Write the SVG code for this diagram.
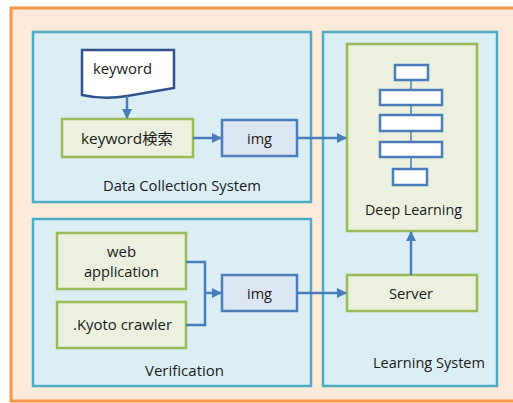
<svg xmlns="http://www.w3.org/2000/svg" width="513" height="403" viewBox="0 0 513 403">
<defs>
<marker id="ah" viewBox="0 0 10 10" refX="9" refY="5" markerWidth="4" markerHeight="4" orient="auto" markerUnits="strokeWidth">
<path d="M0,0 L10,5 L0,10 Z" fill="#4A7EBB"/>
</marker>
<style>
text{font-family:"Open Sans","Noto Sans","Noto Sans CJK JP",sans-serif;font-size:15px;fill:#1a1a1a;text-anchor:middle}
.sys{fill:#DBEEF4;stroke:#4BACC6;stroke-width:2.5}
.grn{fill:#EBF1DE;stroke:#9BBB59;stroke-width:2.5}
.img{fill:#DCE6F2;stroke:#4A7EBB;stroke-width:2.5}
.blk{fill:#FFFFFF;stroke:#4A7EBB;stroke-width:2.5}
.con{fill:none;stroke:#4A7EBB;stroke-width:2.5}
</style>
</defs>
<rect x="0" y="0" width="513" height="403" fill="#FFFFFF"/>
<rect id="outer" x="11" y="8" width="520" height="393" fill="#FDEADA" stroke="#F79646" stroke-width="3"/>

<g id="data-collection-system">
<rect class="sys" x="33" y="32" width="278" height="170"/>
<text x="182" y="191" textLength="158" lengthAdjust="spacingAndGlyphs">Data Collection System</text>
</g>
<g id="verification">
<rect class="sys" x="33" y="219" width="278" height="167"/>
<text x="184.5" y="376" textLength="79" lengthAdjust="spacingAndGlyphs">Verification</text>
</g>
<g id="learning-system">
<rect class="sys" x="323" y="32" width="174" height="354"/>
<text x="429" y="368" textLength="112" lengthAdjust="spacingAndGlyphs">Learning System</text>
</g>

<g id="keyword">
<path d="M82,50 H174 V88 Q150,92 127,96 Q104,100 82,95 Z" fill="#FFFFFF" stroke="#2F528F" stroke-width="2.5"/>
<text x="122.5" y="74" textLength="59" lengthAdjust="spacingAndGlyphs">keyword</text>
</g>
<g id="keyword-search">
<rect class="grn" x="62" y="119" width="131" height="38"/>
<text x="127" y="144" textLength="92" lengthAdjust="spacingAndGlyphs">keyword検索</text>
</g>
<g id="img1">
<rect class="img" x="222" y="120" width="75" height="36"/>
<text x="259.5" y="144" textLength="25" lengthAdjust="spacingAndGlyphs">img</text>
</g>

<g id="web-application">
<rect class="grn" x="57" y="233" width="129" height="56"/>
<text x="121.5" y="257" textLength="29" lengthAdjust="spacingAndGlyphs">web</text>
<text x="121.5" y="277" textLength="75" lengthAdjust="spacingAndGlyphs">application</text>
</g>
<g id="kyoto-crawler">
<rect class="grn" x="57" y="302" width="129" height="46"/>
<text x="122.5" y="330" textLength="99" lengthAdjust="spacingAndGlyphs">.Kyoto crawler</text>
</g>
<g id="img2">
<rect class="img" x="222" y="275" width="75" height="36"/>
<text x="259.5" y="299" textLength="25" lengthAdjust="spacingAndGlyphs">img</text>
</g>

<g id="deep-learning">
<rect class="grn" x="347" y="44" width="130" height="187"/>
<line x1="411" y1="80" x2="411" y2="169" stroke="#4A7EBB" stroke-width="1.5"/>
<rect class="blk" x="395" y="65" width="33" height="15"/>
<rect class="blk" x="380" y="90" width="62" height="15"/>
<rect class="blk" x="380" y="115" width="62" height="16"/>
<rect class="blk" x="380" y="142" width="62" height="15"/>
<rect class="blk" x="393" y="169" width="34" height="16"/>
<text x="413.5" y="215" textLength="97" lengthAdjust="spacingAndGlyphs">Deep Learning</text>
</g>
<g id="server">
<rect class="grn" x="347" y="275" width="130" height="36"/>
<text x="411" y="299" textLength="44" lengthAdjust="spacingAndGlyphs">Server</text>
</g>

<g id="connectors">
<line class="con" x1="127" y1="96" x2="127" y2="118" marker-end="url(#ah)"/>
<line class="con" x1="193" y1="138" x2="221" y2="138" marker-end="url(#ah)"/>
<line class="con" x1="297" y1="138" x2="346" y2="138" marker-end="url(#ah)"/>
<polyline class="con" points="186,262 205,262 205,325 186,325"/>
<line class="con" x1="205" y1="293" x2="221" y2="293" marker-end="url(#ah)"/>
<line class="con" x1="297" y1="293" x2="346" y2="293" marker-end="url(#ah)"/>
<line class="con" x1="411" y1="275" x2="411" y2="232" marker-end="url(#ah)"/>
</g>
</svg>
